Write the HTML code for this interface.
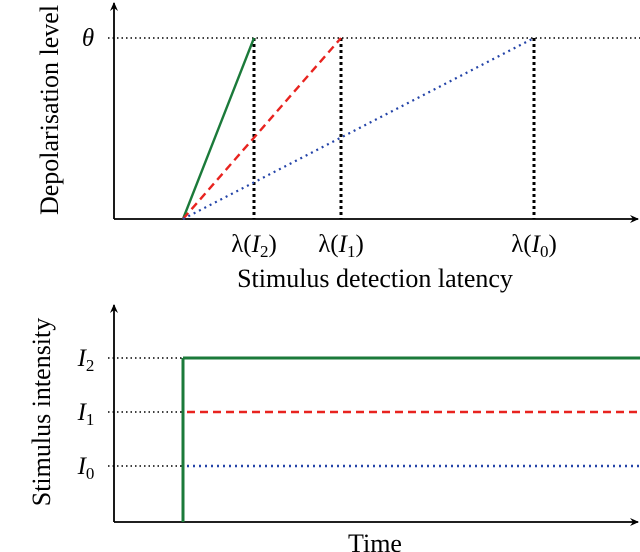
<!DOCTYPE html>
<html><head><meta charset="utf-8"><style>
body{margin:0;background:#fff}
svg{display:block;font-family:"Liberation Serif",serif}
</style></head><body>
<svg id="c" width="640" height="552" viewBox="0 0 640 552">
<defs><marker id="ar" markerWidth="10" markerHeight="8" refX="8" refY="4" orient="auto" markerUnits="userSpaceOnUse"><path d="M0,0 L9,4 L0,8 L3,4 Z" fill="#000"/></marker></defs>
<g id="topChart"></g>
<g id="botChart"></g>
</svg>
<script>
const labels = ["I2","I1","I0"];
const latencies = [1.40, 2.27, 4.20];
const intensities = [3, 2, 1];
const onset = 0.69;
const theta = 1;
const colors = ["#1b7a3a","#e8231f","#2444a8"];
const dashes = ["", "8,5", "2,4"];

const NS="http://www.w3.org/2000/svg";
function mk(p,tag,attrs,text){const e=document.createElementNS(NS,tag);for(const k in attrs)e.setAttribute(k,attrs[k]);if(text!==undefined)e.textContent=text;p.appendChild(e);return e;}
const xScale=v=>114+v*100;
const yTop=d=>219-d*181;
const yBot=v=>520-v*54;

const topG=document.getElementById('topChart'), botG=document.getElementById('botChart');
let a=mk(topG,'line',{x1:114,y1:219,x2:114,y2:3,stroke:'#000','stroke-width':1.8,'marker-end':'url(#ar)'});


a=mk(topG,'line',{x1:114,y1:219,x2:638,y2:219,stroke:'#000','stroke-width':1.8,'marker-end':'url(#ar)'});


a=mk(topG,'line',{x1:108,y1:yTop(theta),x2:640,y2:yTop(theta),stroke:'#000','stroke-width':1.5,'stroke-dasharray':'1.5,3'});


a=mk(topG,'text',{x:88,y:yTop(theta)+8,'font-size':25,'font-style':'italic','text-anchor':'middle'},'θ');


latencies.forEach((l,i)=>{
  let e=mk(topG,'line',{x1:xScale(l),y1:yTop(theta),x2:xScale(l),y2:yTop(0),stroke:'#000','stroke-width':3,'stroke-dasharray':'3,3'});
  
  
  e=mk(topG,'line',{x1:xScale(onset),y1:yTop(0),x2:xScale(l),y2:yTop(theta),stroke:colors[i],'stroke-width':i===2?2.2:2.4,'stroke-dasharray':dashes[i]});
  
  
  e=mk(topG,'text',{x:xScale(l),y:252,'font-size':25,'text-anchor':'middle'});
  e.innerHTML='λ(<tspan font-style="italic">I</tspan><tspan font-size="17" dy="5">'+labels[i][1]+'</tspan><tspan dy="-5">)</tspan>';
  
  
});
a=mk(topG,'text',{x:375,y:287,'font-size':26,'text-anchor':'middle'},'Stimulus detection latency');


a=mk(topG,'text',{x:0,y:0,'font-size':26,'text-anchor':'middle',transform:'translate(58,110) rotate(-90)'},'Depolarisation level');



a=mk(botG,'line',{x1:114,y1:522,x2:114,y2:305,stroke:'#000','stroke-width':1.8,'marker-end':'url(#ar)'});


a=mk(botG,'line',{x1:114,y1:522,x2:638,y2:522,stroke:'#000','stroke-width':1.8,'marker-end':'url(#ar)'});


intensities.forEach((v,i)=>{
  let e=mk(botG,'line',{x1:108,y1:yBot(v),x2:xScale(onset),y2:yBot(v),stroke:'#000','stroke-width':1.5,'stroke-dasharray':'1.5,3'});
  
  
  e=mk(botG,'text',{x:86,y:yBot(v)+8,'font-size':25,'text-anchor':'middle'});
  e.innerHTML='<tspan font-style="italic">I</tspan><tspan font-size="17" dy="5">'+labels[i][1]+'</tspan>';
  
  
  const x0=i===0?xScale(onset):xScale(onset)+4;
  e=mk(botG,'line',{x1:x0,y1:yBot(v),x2:640,y2:yBot(v),stroke:colors[i],'stroke-width':i===0?3:2.6,'stroke-dasharray':dashes[i]});
  
  
});
a=mk(botG,'line',{x1:xScale(onset),y1:522,x2:xScale(onset),y2:yBot(intensities[0]),stroke:colors[0],'stroke-width':3});


a=mk(botG,'text',{x:375,y:552,'font-size':26,'text-anchor':'middle'},'Time');


a=mk(botG,'text',{x:0,y:0,'font-size':26,'text-anchor':'middle',transform:'translate(50,412) rotate(-90)'},'Stimulus intensity');


</script>
</body></html>
